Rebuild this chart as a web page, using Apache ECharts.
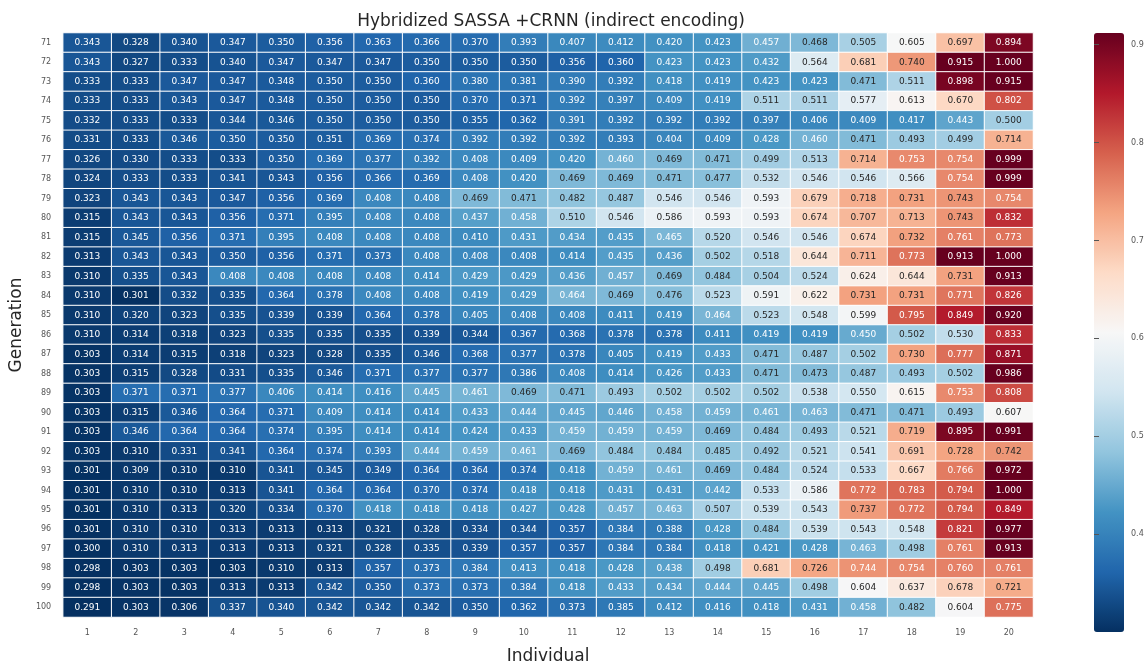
<!DOCTYPE html>
<html>
<head>
<meta charset="utf-8">
<title>Hybridized SASSA +CRNN</title>
<script src="https://cdn.jsdelivr.net/npm/echarts@6/dist/echarts.min.js"></script>
<style>
  html, body { margin: 0; padding: 0; background: #fff; }
  #main { width: 1147px; height: 670px; }
</style>
</head>
<body>
<div id="main"></div>
<script>
// 个体编号 (x) 和 代数 (y)
var individuals = ['1','2','3','4','5','6','7','8','9','10','11','12','13','14','15','16','17','18','19','20'];
var generations = ['71','72','73','74','75','76','77','78','79','80','81','82','83','84','85',
                   '86','87','88','89','90','91','92','93','94','95','96','97','98','99','100'];

// 每一代的值, 一行一代
var gen71 = [0.343,0.328,0.340,0.347,0.350,0.356,0.363,0.366,0.370,0.393,0.407,0.412,0.420,0.423,0.457,0.468,0.505,0.605,0.697,0.894];
var gen72 = [0.343,0.327,0.333,0.340,0.347,0.347,0.347,0.350,0.350,0.350,0.356,0.360,0.423,0.423,0.432,0.564,0.681,0.740,0.915,1.000];
var gen73 = [0.333,0.333,0.347,0.347,0.348,0.350,0.350,0.360,0.380,0.381,0.390,0.392,0.418,0.419,0.423,0.423,0.471,0.511,0.898,0.915];
var gen74 = [0.333,0.333,0.343,0.347,0.348,0.350,0.350,0.350,0.370,0.371,0.392,0.397,0.409,0.419,0.511,0.511,0.577,0.613,0.670,0.802];
var gen75 = [0.332,0.333,0.333,0.344,0.346,0.350,0.350,0.350,0.355,0.362,0.391,0.392,0.392,0.392,0.397,0.406,0.409,0.417,0.443,0.500];
var gen76 = [0.331,0.333,0.346,0.350,0.350,0.351,0.369,0.374,0.392,0.392,0.392,0.393,0.404,0.409,0.428,0.460,0.471,0.493,0.499,0.714];
var gen77 = [0.326,0.330,0.333,0.333,0.350,0.369,0.377,0.392,0.408,0.409,0.420,0.460,0.469,0.471,0.499,0.513,0.714,0.753,0.754,0.999];
var gen78 = [0.324,0.333,0.333,0.341,0.343,0.356,0.366,0.369,0.408,0.420,0.469,0.469,0.471,0.477,0.532,0.546,0.546,0.566,0.754,0.999];
var gen79 = [0.323,0.343,0.343,0.347,0.356,0.369,0.408,0.408,0.469,0.471,0.482,0.487,0.546,0.546,0.593,0.679,0.718,0.731,0.743,0.754];
var gen80 = [0.315,0.343,0.343,0.356,0.371,0.395,0.408,0.408,0.437,0.458,0.510,0.546,0.586,0.593,0.593,0.674,0.707,0.713,0.743,0.832];
var gen81 = [0.315,0.345,0.356,0.371,0.395,0.408,0.408,0.408,0.410,0.431,0.434,0.435,0.465,0.520,0.546,0.546,0.674,0.732,0.761,0.773];
var gen82 = [0.313,0.343,0.343,0.350,0.356,0.371,0.373,0.408,0.408,0.408,0.414,0.435,0.436,0.502,0.518,0.644,0.711,0.773,0.913,1.000];
var gen83 = [0.310,0.335,0.343,0.408,0.408,0.408,0.408,0.414,0.429,0.429,0.436,0.457,0.469,0.484,0.504,0.524,0.624,0.644,0.731,0.913];
var gen84 = [0.310,0.301,0.332,0.335,0.364,0.378,0.408,0.408,0.419,0.429,0.464,0.469,0.476,0.523,0.591,0.622,0.731,0.731,0.771,0.826];
var gen85 = [0.310,0.320,0.323,0.335,0.339,0.339,0.364,0.378,0.405,0.408,0.408,0.411,0.419,0.464,0.523,0.548,0.599,0.795,0.849,0.920];
var gen86 = [0.310,0.314,0.318,0.323,0.335,0.335,0.335,0.339,0.344,0.367,0.368,0.378,0.378,0.411,0.419,0.419,0.450,0.502,0.530,0.833];
var gen87 = [0.303,0.314,0.315,0.318,0.323,0.328,0.335,0.346,0.368,0.377,0.378,0.405,0.419,0.433,0.471,0.487,0.502,0.730,0.777,0.871];
var gen88 = [0.303,0.315,0.328,0.331,0.335,0.346,0.371,0.377,0.377,0.386,0.408,0.414,0.426,0.433,0.471,0.473,0.487,0.493,0.502,0.986];
var gen89 = [0.303,0.371,0.371,0.377,0.406,0.414,0.416,0.445,0.461,0.469,0.471,0.493,0.502,0.502,0.502,0.538,0.550,0.615,0.753,0.808];
var gen90 = [0.303,0.315,0.346,0.364,0.371,0.409,0.414,0.414,0.433,0.444,0.445,0.446,0.458,0.459,0.461,0.463,0.471,0.471,0.493,0.607];
var gen91 = [0.303,0.346,0.364,0.364,0.374,0.395,0.414,0.414,0.424,0.433,0.459,0.459,0.459,0.469,0.484,0.493,0.521,0.719,0.895,0.991];
var gen92 = [0.303,0.310,0.331,0.341,0.364,0.374,0.393,0.444,0.459,0.461,0.469,0.484,0.484,0.485,0.492,0.521,0.541,0.691,0.728,0.742];
var gen93 = [0.301,0.309,0.310,0.310,0.341,0.345,0.349,0.364,0.364,0.374,0.418,0.459,0.461,0.469,0.484,0.524,0.533,0.667,0.766,0.972];
var gen94 = [0.301,0.310,0.310,0.313,0.341,0.364,0.364,0.370,0.374,0.418,0.418,0.431,0.431,0.442,0.533,0.586,0.772,0.783,0.794,1.000];
var gen95 = [0.301,0.310,0.313,0.320,0.334,0.370,0.418,0.418,0.418,0.427,0.428,0.457,0.463,0.507,0.539,0.543,0.737,0.772,0.794,0.849];
var gen96 = [0.301,0.310,0.310,0.313,0.313,0.313,0.321,0.328,0.334,0.344,0.357,0.384,0.388,0.428,0.484,0.539,0.543,0.548,0.821,0.977];
var gen97 = [0.300,0.310,0.313,0.313,0.313,0.321,0.328,0.335,0.339,0.357,0.357,0.384,0.384,0.418,0.421,0.428,0.463,0.498,0.761,0.913];
var gen98 = [0.298,0.303,0.303,0.303,0.310,0.313,0.357,0.373,0.384,0.413,0.418,0.428,0.438,0.498,0.681,0.726,0.744,0.754,0.760,0.761];
var gen99 = [0.298,0.303,0.303,0.313,0.313,0.342,0.350,0.373,0.373,0.384,0.418,0.433,0.434,0.444,0.445,0.498,0.604,0.637,0.678,0.721];
var gen100 = [0.291,0.303,0.306,0.337,0.340,0.342,0.342,0.342,0.350,0.362,0.373,0.385,0.412,0.416,0.418,0.431,0.458,0.482,0.604,0.775];

var rows = [gen71,gen72,gen73,gen74,gen75,gen76,gen77,gen78,gen79,gen80,
            gen81,gen82,gen83,gen84,gen85,gen86,gen87,gen88,gen89,gen90,
            gen91,gen92,gen93,gen94,gen95,gen96,gen97,gen98,gen99,gen100];

// 颜色条范围 (下限取0.3, 刻度每0.1一个)
var cbarMin = 0.3;
var cbarMax = 0.912;

// RdBu_r
var rdbu = ['#053061','#2166ac','#4393c3','#92c5de','#d1e5f0','#f7f7f7','#fddbc7','#f4a582','#d6604d','#b2182b','#67001f'];

var font = 'DejaVu Sans';

// 组装热力图数据 (深色格子用白字)
var cells = [];
rows.forEach(function (row, r) {
    row.forEach(function (v, c) {
        var light = v >= 0.467 && v <= 0.7435;
        cells.push({
            value: [c, r, v],
            label: { color: light ? '#262626' : '#ffffff' }
        });
    });
});

var chart = echarts.init(document.getElementById('main'));

var option = {
    backgroundColor: '#fff',
    animation: false,
    title: {
        text: 'Hybridized SASSA +CRNN (indirect encoding)',
        left: 546,
        textAlign: 'center',
        top: 8,
        textStyle: { fontFamily: font, fontSize: 17, fontWeight: 'normal', color: '#262626' }
    },
    grid: [
        { left: 59, top: 33, width: 974, height: 597 },
        { left: 1094, top: 33, width: 30, height: 599 }
    ],
    xAxis: [
        {
            type: 'category',
            data: individuals,
            gridIndex: 0,
            position: 'bottom',
            name: 'Individual',
            nameLocation: 'middle',
            nameGap: 31,
            nameTextStyle: { fontFamily: font, fontSize: 17, color: '#262626' },
            axisLine: { show: false },
            axisTick: { show: false },
            axisLabel: { fontFamily: font, fontSize: 8, color: '#555', margin: 12 },
            splitLine: { show: false }
        },
        {
            type: 'value',
            gridIndex: 1,
            show: false,
            min: 0,
            max: 1
        }
    ],
    yAxis: [
        {
            type: 'category',
            data: generations,
            gridIndex: 0,
            inverse: true,
            name: 'Generation',
            nameLocation: 'middle',
            nameGap: 36,
            nameRotate: 90,
            nameTextStyle: { fontFamily: font, fontSize: 17, color: '#262626' },
            axisLine: { show: false },
            axisTick: { show: false },
            axisLabel: { fontFamily: font, fontSize: 8, color: '#555', margin: 12 },
            splitLine: { show: false }
        },
        {
            type: 'value',
            gridIndex: 1,
            position: 'right',
            z: 20,
            min: cbarMin,
            max: cbarMax,
            interval: 0.1,
            axisLine: { show: true, lineStyle: { color: 'rgba(0,0,0,0)' } },
            splitLine: { show: false },
            axisTick: {
                show: true,
                inside: false,
                length: 5,
                lineStyle: { color: '#555', width: 1, opacity: 1 }
            },
            axisLabel: {
                fontFamily: font,
                fontSize: 8,
                color: '#555',
                margin: 7,
                showMinLabel: false,
                showMaxLabel: false,
                formatter: function (v) { return v.toFixed(1); }
            }
        }
    ],
    visualMap: {
        type: 'continuous',
        seriesIndex: 0,
        z: 1,
        min: cbarMin,
        max: cbarMax,
        calculable: false,
        realtime: false,
        text: null,
        itemWidth: 30,
        itemHeight: 599,
        left: 1094,
        top: 33,
        padding: 0,
        inRange: { color: rdbu }
    },
    series: [{
        type: 'heatmap',
        xAxisIndex: 0,
        yAxisIndex: 0,
        data: cells,
        label: {
            show: true,
            fontFamily: font,
            fontSize: 9,
            formatter: function (p) { return p.value[2].toFixed(3); }
        },
        itemStyle: { borderColor: '#ffffff', borderWidth: 1 },
        emphasis: { disabled: true }
    }]
};

chart.setOption(option);
</script>
</body>
</html>
